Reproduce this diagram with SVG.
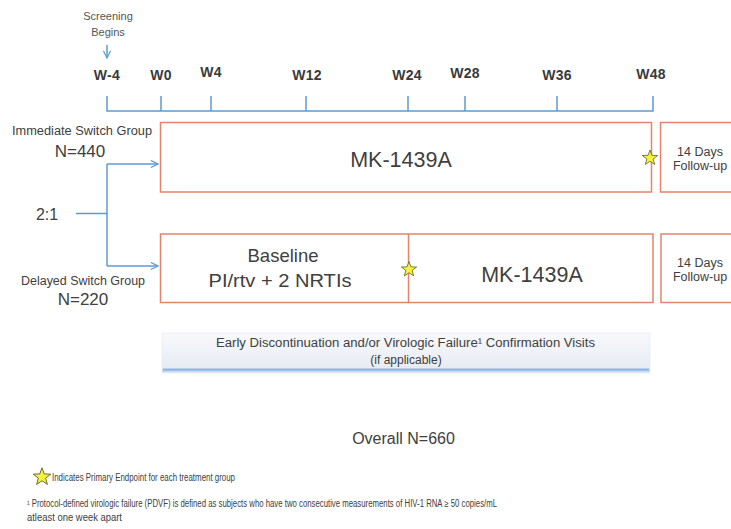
<svg xmlns="http://www.w3.org/2000/svg" width="731" height="529" viewBox="0 0 731 529">
<defs>
<style>
text{font-family:"Liberation Sans",Arial,sans-serif;fill:#404040}
.wk{font-size:14px;font-weight:bold;text-anchor:middle;fill:#3a3a3a;letter-spacing:0.3px}
.ax{stroke:#5b9bd5;stroke-width:1.5;fill:none}
.box{fill:#fff;stroke:#e8826a;stroke-width:1.5}
.mid{text-anchor:middle}
.star{fill:#f6f23c;stroke:#5e5e2a;stroke-width:0.8;stroke-linejoin:round}
</style>
<marker id="ah" viewBox="0 0 10 10" refX="9" refY="5" markerWidth="9" markerHeight="9" markerUnits="userSpaceOnUse" orient="auto">
<path d="M1,1 L9,5 L1,9" fill="none" stroke="#5b9bd5" stroke-width="1.3"/>
</marker>
<path id="st" d="M0,-8 L1.94,-2.67 L7.61,-2.47 L3.14,1.02 L4.7,6.47 L0,3.3 L-4.7,6.47 L-3.14,1.02 L-7.61,-2.47 L-1.94,-2.67 Z"/>
<linearGradient id="gb" x1="0" y1="0" x2="0" y2="1">
<stop offset="0" stop-color="#f8f9fc"/>
<stop offset="1" stop-color="#e6ebf3"/>
</linearGradient>
<linearGradient id="sh" x1="0" y1="0" x2="0" y2="1">
<stop offset="0" stop-color="#8db4e6"/>
<stop offset="1" stop-color="#8db4e6" stop-opacity="0"/>
</linearGradient>
</defs>
<rect width="731" height="529" fill="#fff"/>

<g id="timeline">
<text x="108" y="20" class="mid" style="font-size:11px;fill:#555">Screening</text>
<text x="108" y="36" class="mid" style="font-size:11px;fill:#555">Begins</text>
<line x1="107" y1="45" x2="107" y2="58" class="ax" stroke-width="1.2" marker-end="url(#ah)"/>
<text x="107" y="80" class="wk">W-4</text>
<text x="161" y="80" class="wk">W0</text>
<text x="211" y="77" class="wk">W4</text>
<text x="307" y="80" class="wk">W12</text>
<text x="407" y="80" class="wk">W24</text>
<text x="465" y="78" class="wk">W28</text>
<text x="557" y="80" class="wk">W36</text>
<text x="651" y="79" class="wk">W48</text>
<path class="ax" d="M107,96 V111 H653 V96 M161,96 V111 M211,96 V111 M306,96 V111 M408,96 V111 M465,96 V111 M557,96 V111"/>
</g>

<g id="labels">
<text x="82" y="135" class="mid" style="font-size:12px" textLength="140" lengthAdjust="spacingAndGlyphs">Immediate Switch Group</text>
<text x="80" y="157" class="mid" style="font-size:17px">N=440</text>
<text x="47" y="220" class="mid" style="font-size:16px">2:1</text>
<text x="83" y="285" class="mid" style="font-size:12px" textLength="124" lengthAdjust="spacingAndGlyphs">Delayed Switch Group</text>
<text x="83" y="305" class="mid" style="font-size:17px">N=220</text>
</g>

<g id="connectors">
<path class="ax" d="M76,213.5 H107"/>
<path class="ax" d="M107,164 V266"/>
<path class="ax" d="M107,164 H158" marker-end="url(#ah)"/>
<path class="ax" d="M107,266 H158" marker-end="url(#ah)"/>
</g>

<g id="immediate">
<rect class="box" x="160.5" y="122.5" width="491" height="69.5"/>
<text x="401" y="167" class="mid" style="font-size:21.5px">MK-1439A</text>
<use href="#st" class="star" x="650" y="158"/>
</g>
<g id="immediate-followup">
<rect class="box" x="660.5" y="122.5" width="80" height="69.5"/>
<text x="700" y="156" class="mid" style="font-size:12.5px">14 Days</text>
<text x="700" y="170" class="mid" style="font-size:12.5px">Follow-up</text>
</g>

<g id="delayed">
<rect class="box" x="160.5" y="234" width="492.5" height="68.5"/>
<line x1="408.5" y1="234" x2="408.5" y2="302.5" stroke="#e8826a" stroke-width="1.5"/>
<text x="283" y="262" class="mid" style="font-size:18.5px">Baseline</text>
<text x="280" y="287" class="mid" style="font-size:18.5px" textLength="143" lengthAdjust="spacingAndGlyphs">PI/rtv + 2 NRTIs</text>
<text x="532" y="282" class="mid" style="font-size:21.5px">MK-1439A</text>
<use href="#st" class="star" x="409" y="269.5"/>
</g>
<g id="delayed-followup">
<rect class="box" x="661" y="234" width="80" height="68.5"/>
<text x="700" y="267" class="mid" style="font-size:12.5px">14 Days</text>
<text x="700" y="281" class="mid" style="font-size:12.5px">Follow-up</text>
</g>

<g id="early-visits">
<rect x="162" y="369" width="488" height="5" fill="url(#sh)"/>
<rect x="162" y="333" width="488" height="37" fill="url(#gb)" stroke="#e3e7ef" stroke-width="0.6"/>
<line x1="163" y1="369.5" x2="649" y2="369.5" stroke="#8db4e6" stroke-width="2"/>
<text x="405.5" y="347" class="mid" style="font-size:12px" textLength="379" lengthAdjust="spacingAndGlyphs">Early Discontinuation and/or Virologic Failure¹ Confirmation Visits</text>
<text x="406" y="364" class="mid" style="font-size:12px">(if applicable)</text>
</g>

<g id="overall">
<text x="403.5" y="444" class="mid" style="font-size:16px">Overall N=660</text>
</g>

<g id="legend">
<use href="#st" class="star" transform="translate(42,477) scale(1.15)"/>
<text x="52" y="481" style="font-size:10px" textLength="183" lengthAdjust="spacingAndGlyphs">Indicates Primary Endpoint for each treatment group</text>
<text x="27" y="507" style="font-size:10px" textLength="470" lengthAdjust="spacingAndGlyphs">¹ Protocol-defined virologic failure (PDVF) is defined as subjects who have two consecutive measurements of HIV-1 RNA ≥ 50 copies/mL</text>
<text x="27" y="521" style="font-size:10px" textLength="95" lengthAdjust="spacingAndGlyphs">atleast one week apart</text>
</g>
</svg>
